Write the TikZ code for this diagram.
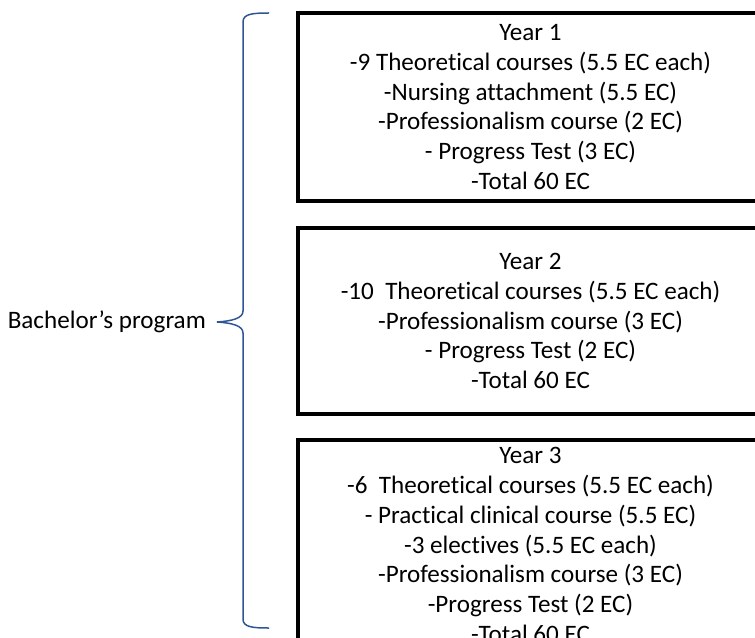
\documentclass[tikz,border=0pt]{standalone}
\usepackage{fontspec}
\setmainfont{Carlito}[Ligatures=NoCommon]
\usetikzlibrary{positioning}
\definecolor{bracecol}{RGB}{47,85,151}
\begin{document}
\begin{tikzpicture}[x=1bp,y=-1bp,
	yearbox/.style={draw, line width=4bp, inner sep=0pt, outer sep=0pt, minimum width=465bp, align=center, font=\fontsize{25.2}{29.8}\selectfont},
	brace/.style={bracecol, line width=1.5bp}]
		\useasboundingbox (0,0) rectangle (755,638);
		\node[yearbox, minimum height=188bp] (year1) at (530.5,107) {Year 1\\-9 Theoretical courses (5.5 EC each)\\-Nursing attachment (5.5 EC)\\-Professionalism course (2 EC)\\- Progress Test (3 EC)\\-Total 60 EC};
		\node[yearbox, minimum height=186bp, below=27bp of year1] (year2) {Year 2\\-10\ \ Theoretical courses (5.5 EC each)\\-Professionalism course (3 EC)\\- Progress Test (2 EC)\\-Total 60 EC};
		\node[yearbox, minimum height=210bp, below=26bp of year2] (year3) {Year 3\\-6\ \ Theoretical courses (5.5 EC each)\\- Practical clinical course (5.5 EC)\\-3 electives (5.5 EC each)\\-Professionalism course (3 EC)\\-Progress Test (2 EC)\\-Total 60 EC};
		\coordinate (tip) at (217,322);
		\node[left=11bp of tip, inner sep=0pt, font=\fontsize{25.2}{29.8}\selectfont] (prog) {Bachelor’s program};
		\draw[brace] (269,13) .. controls (252,13) and (243,14) .. (243,22) -- (243,311) .. controls (243,318) and (233,321) .. (tip) .. controls (233,323) and (243,326) .. (243,333) -- (243,619) .. controls (243,627) and (252,628) .. (269,628);
		\end{tikzpicture}
\end{document}
